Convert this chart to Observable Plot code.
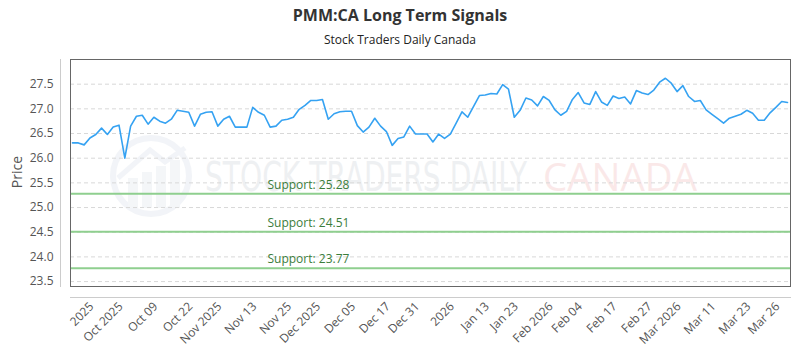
<!DOCTYPE html>
<html><head><meta charset="utf-8">
<script src="https://cdn.jsdelivr.net/npm/d3@7"></script>
<script src="https://cdn.jsdelivr.net/npm/@observablehq/plot@0.6"></script>
<style>
body{margin:0;background:#fff;}
#head{height:50px;position:relative;width:800px;}
#title{position:absolute;top:5px;left:0;width:800px;text-align:center;font:bold 16px "Open Sans",sans-serif;color:#333;line-height:20px;}
#sub{position:absolute;top:32px;left:0;width:800px;text-align:center;font:12px "Open Sans",sans-serif;color:#222;line-height:16px;}
#chart{position:relative;width:800px;height:300px;}
#wm{position:absolute;left:0;top:0;}
#plot{position:absolute;left:0;top:0;}
#ylab{position:absolute;left:16px;top:122px;transform:translate(-50%,-50%) rotate(-90deg);font:14px "Open Sans",sans-serif;color:#555;white-space:nowrap;}
</style>
</head><body>
<div id="head"><div id="title">PMM:CA Long Term Signals</div><div id="sub">Stock Traders Daily Canada</div></div>
<div id="chart">
<svg id="wm" width="800" height="300">
  <g opacity="0.4">
    <circle cx="151" cy="126" r="38" fill="none" stroke="#dfe5ee" stroke-width="6"/>
    <rect x="128" y="128" width="10" height="30" fill="#e6eaf0"/>
    <rect x="142" y="122" width="10" height="36" fill="#e6eaf0"/>
    <rect x="156" y="116" width="10" height="42" fill="#e6eaf0"/>
    <rect x="170" y="110" width="10" height="48" fill="#e6eaf0"/>
    <polyline points="118,128 150,100 165,112 185,98" fill="none" stroke="#dfe5ee" stroke-width="5"/>
    <text x="205" y="141" font-family="DejaVu Sans Condensed, Liberation Sans Narrow, sans-serif" font-size="40" textLength="322" lengthAdjust="spacingAndGlyphs" fill="#d6dae0">STOCK TRADERS DAILY</text>
    <text x="543" y="141" font-family="Open Sans, sans-serif" font-size="38" textLength="154" lengthAdjust="spacingAndGlyphs" fill="#f5c8c8">CANADA</text>
  </g>
</svg>
<div id="plot"></div>
<div id="ylab">Price</div>
</div>
<script>
const prices = [
26.31, 26.31, 26.27, 26.41, 26.48, 26.61, 26.48, 26.63, 26.67, 26.00, 26.65, 26.85, 26.87, 26.69, 26.83, 26.75, 26.71, 26.79, 26.97, 26.95, 26.93, 26.65, 26.89, 26.93, 26.94, 26.65, 26.79, 26.85, 26.63, 26.63, 26.63,
27.03, 26.93, 26.87, 26.63, 26.65, 26.77, 26.79, 26.83, 26.99, 27.07, 27.17, 27.17, 27.19, 26.79, 26.90, 26.94, 26.95, 26.95, 26.66, 26.53, 26.63, 26.81, 26.65, 26.54, 26.26, 26.40, 26.43, 26.65, 26.49, 26.49, 26.49,
26.33, 26.49, 26.40, 26.49, 26.71, 26.94, 26.83, 27.05, 27.27, 27.28, 27.31, 27.30, 27.49, 27.40, 26.83, 26.97, 27.22, 27.18, 27.06, 27.25, 27.17, 26.98, 26.87, 26.95, 27.19, 27.33, 27.12, 27.09, 27.35, 27.14, 27.07,
27.26, 27.21, 27.24, 27.10, 27.37, 27.32, 27.29, 27.38, 27.54, 27.62, 27.52, 27.35, 27.47, 27.25, 27.15, 27.17, 26.98, 26.89, 26.80, 26.71, 26.81, 26.85, 26.89, 26.97, 26.91, 26.77, 26.77, 26.92, 27.03, 27.15, 27.13
];
const tickLabels = ["2025","Oct 2025","Oct 09","Oct 22","Nov 2025","Nov 13","Nov 25","Dec 2025","Dec 05","Dec 17","Dec 31","2026","Jan 13","Jan 23","Feb 2026","Feb 04","Feb 17","Feb 27","Mar 2026","Mar 11","Mar 23","Mar 26"];
const tickIndex = [4,9,15,21,26,32,38,43,49,55,60,66,72,77,83,88,94,100,105,111,117,122];
const supports = [25.28, 24.51, 23.77];
const yTicks = [23.5,24.0,24.5,25.0,25.5,26.0,26.5,27.0,27.5];

const data = prices.map((p,i)=>({i,p}));
const font = "Open Sans, sans-serif";
const chart = Plot.plot({
  width: 800, height: 300,
  marginTop: 9, marginBottom: 64, marginLeft: 70, marginRight: 10,
  style: {background: "transparent", fontFamily: font, fontSize: "12px", color: "#555"},
  x: {domain: [0, prices.length-1], insetLeft: 2, insetRight: 3},
  y: {domain: [23.4, 28.0]},
  marks: [
    Plot.gridY(yTicks, {stroke: "#d8d8d8", strokeOpacity: 1, strokeDasharray: "4,3"}),
    Plot.ruleY(supports, {stroke: "#8fcf8f", strokeWidth: 2}),
    Plot.text(supports, {y: d=>d, text: d=>"Support: " + d.toFixed(2), frameAnchor: "left", dx: 197, dy: -5, textAnchor: "start", lineAnchor: "bottom", fill: "#3b7d3b", fontSize: 12}),
    Plot.line(data, {x: "i", y: "p", stroke: "#35a2f2", strokeWidth: 1.6}),
    Plot.frame({stroke: "#666"}),
    Plot.frame({anchor: "left", dx: -10, stroke: "#ccc"}),
    Plot.frame({anchor: "bottom", dy: 11, stroke: "#ccc"}),
    Plot.axisY(yTicks, {tickSize: 0, tickPadding: 17, tickFormat: d=>d.toFixed(1), label: null, fontSize: 12, color: "#555"}),
    Plot.axisX(tickIndex, {tickSize: 0, tickPadding: 18, dx: -4, tickRotate: -45, tickFormat: d=>tickLabels[tickIndex.indexOf(d)], label: null, fontSize: 12, color: "#555"})
  ]
});
document.getElementById("plot").appendChild(chart);
</script>
</body></html>
